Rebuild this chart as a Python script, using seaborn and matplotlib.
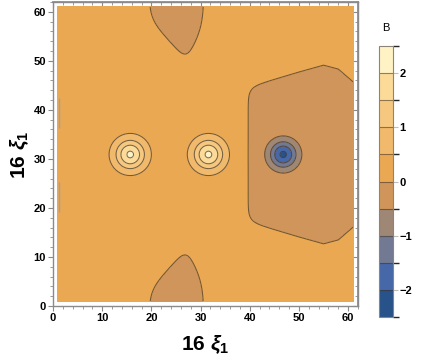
import numpy as np
import matplotlib
matplotlib.use('Agg')
import matplotlib.pyplot as plt
from matplotlib.colors import ListedColormap, BoundaryNorm
from matplotlib.ticker import MultipleLocator
import seaborn as sns

# field features
peak_x = [15.7, 31.6, 46.8]
peak_y = [30.9, 30.9, 30.9]
peak_amp = [1.84, 1.84, -1.9]
peak_sigma = [2.15, 2.15, 1.97]

field_base = 0.25
dip_depth = 0.45
mid_y = 30.9

# right-hand plateau (B < 0): left edge and half height around mid_y
plateau_left = 39.5
plateau_x = [39.5, 45.0, 50.0, 55.0, 58.0, 61.0]
plateau_half = [13.8, 15.5, 17.0, 18.4, 17.6, 15.0]

# top / bottom corner blobs (mirror images about mid_y)
blob_left = 19.4
blob_right = 30.8
blob_vx = [19.2, 27.1, 31.0]
blob_vdy = [27.8, 19.0, 26.0]

# little edge artefacts on the left border
edge_y0 = [19.2, 36.3]
edge_y1 = [25.2, 42.4]

levels = [-2.5, -2.0, -1.5, -1.0, -0.5, 0.0, 0.5, 1.0, 1.5, 2.0, 2.5]
band_colors = ['#27528a', '#4668a8', '#727993', '#9f8775', '#cf955a',
               '#eaa853', '#f1b96b', '#f6c77f', '#fcdb98', '#fff3c5']
cbar_ticks = [-2, -1, 0, 1, 2]


def sig(z):
    return 1.0 / (1.0 + np.exp(-z))


xs = np.linspace(1, 61, 301)
ys = np.linspace(1, 61, 301)
X, Y = np.meshgrid(xs, ys)
DY = np.abs(Y - mid_y)
w = 0.8

p_right = sig((X - plateau_left) / w) * sig((np.interp(X, plateau_x, plateau_half) - DY) / w)

s1 = (blob_vdy[1] - blob_vdy[0]) / (blob_vx[1] - blob_vx[0])
s2 = (blob_vdy[2] - blob_vdy[1]) / (blob_vx[2] - blob_vx[1])
d1 = (DY - (blob_vdy[0] + s1 * (X - blob_vx[0]))) / np.hypot(1, s1)
d2 = (DY - (blob_vdy[1] + s2 * (X - blob_vx[1]))) / np.hypot(1, s2)
p_blob = sig((X - blob_left) / w) * sig((blob_right - X) / w) * sig(d1 / w) * sig(d2 / w)

Z = field_base - dip_depth * (p_right + p_blob)
for px, py, a, s in zip(peak_x, peak_y, peak_amp, peak_sigma):
    Z = Z + a * np.exp(-((X - px) ** 2 + (Y - py) ** 2) / (2 * s ** 2))

sns.set_theme(style='ticks')
plt.rcParams['font.family'] = ['Liberation Sans', 'DejaVu Sans']
plt.rcParams['text.color'] = 'black'
plt.rcParams['mathtext.fontset'] = 'custom'
plt.rcParams['mathtext.rm'] = 'Liberation Sans:bold'
plt.rcParams['mathtext.bf'] = 'Liberation Sans:bold'
plt.rcParams['mathtext.it'] = 'Liberation Sans:italic:bold'

cmap = ListedColormap(sns.color_palette(band_colors))
norm = BoundaryNorm(levels, cmap.N)

fig = plt.figure(figsize=(4.21, 3.63), dpi=100)
ax = fig.add_axes([53 / 421, 57 / 363, 305 / 421, 304 / 363])

cf = ax.contourf(X, Y, Z, levels=levels, cmap=cmap, norm=norm)
ax.contour(X, Y, Z, levels=levels, colors='#3f3225', linewidths=0.75, alpha=0.7,
           linestyles='solid')
ax.vlines([1.15] * len(edge_y0), edge_y0, edge_y1, color='#a0a0a0', lw=1.0)

ax.set_xlim(0, 62)
ax.set_ylim(0, 62)
for sp in ax.spines.values():
    sp.set_color('#8a8a8a')
    sp.set_linewidth(1.0)
ax.xaxis.set_major_locator(MultipleLocator(10))
ax.xaxis.set_minor_locator(MultipleLocator(2))
ax.yaxis.set_major_locator(MultipleLocator(10))
ax.yaxis.set_minor_locator(MultipleLocator(2))
ax.tick_params(which='major', direction='out', length=3.5, width=0.8, color='#8a8a8a',
               labelsize=8, pad=1.5, labelcolor='black')
ax.tick_params(which='minor', direction='out', length=2, width=0.6, color='#8a8a8a')
for lab in ax.get_xticklabels() + ax.get_yticklabels():
    lab.set_fontweight('bold')

# inward ticks on top and right
for side in ['top', 'right']:
    if side == 'top':
        sec = ax.secondary_xaxis('top')
        sec.xaxis.set_major_locator(MultipleLocator(10))
        sec.xaxis.set_minor_locator(MultipleLocator(2))
    else:
        sec = ax.secondary_yaxis('right')
        sec.yaxis.set_major_locator(MultipleLocator(10))
        sec.yaxis.set_minor_locator(MultipleLocator(2))
    sec.tick_params(which='major', direction='in', length=3.5, width=0.8, color='#8a8a8a',
                    labeltop=False, labelright=False)
    sec.tick_params(which='minor', direction='in', length=2, width=0.6, color='#8a8a8a')
    for sp in sec.spines.values():
        sp.set_color('#8a8a8a')

fig.text(205 / 421, 1 - 345 / 363, r'16 $\xi_1$', fontsize=15, fontweight='bold',
         ha='center', va='center', color='black')
fig.text(20 / 421, 1 - 155 / 363, r'16 $\xi_1$', fontsize=15, fontweight='bold',
         ha='center', va='center', rotation=90, color='black')

cax = fig.add_axes([379 / 421, 46 / 363, 14 / 421, 271 / 363])
cb = fig.colorbar(cf, cax=cax, ticks=cbar_ticks)
cb.outline.set_edgecolor('#8c8577')
cb.outline.set_linewidth(0.8)
for lv in levels[1:-1]:
    cax.axhline(lv, color='#3f3225', lw=0.8, alpha=0.55)
cax.tick_params(direction='out', length=3.5, width=0.8, color='#bdbdbd', labelsize=8, pad=1,
                labelcolor='black')
cax.set_yticklabels(['\u22122', '\u22121', '0', '1', '2'], fontweight='bold')
fig.text(386 / 421, 1 - 28 / 363, 'B', fontsize=8, ha='center', va='center', color='black')

fig.savefig('out.png', dpi=100)
